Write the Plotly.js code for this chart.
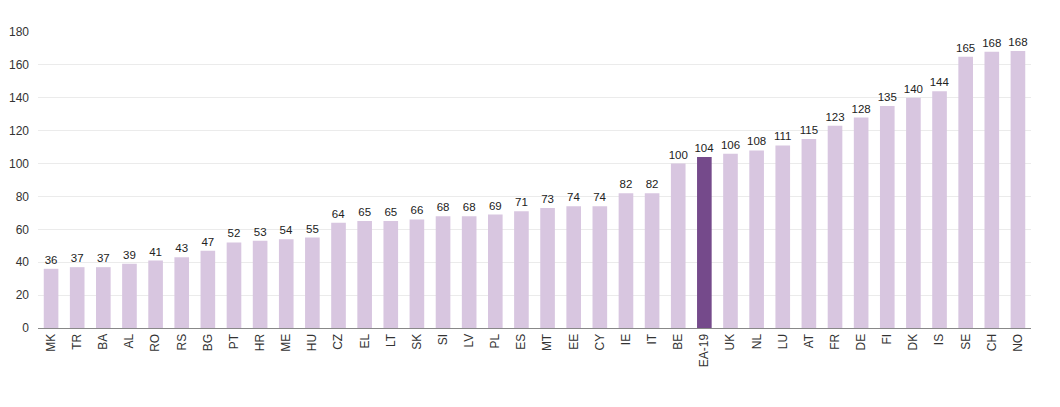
<!DOCTYPE html>
<html><head><meta charset="utf-8">
<script src="https://cdn.plot.ly/plotly-3.0.1.min.js"></script>
<style>body{margin:0;background:#fff}#c{width:1060px;height:407px}</style>
</head><body><div id="c"></div>
<script>
var categories = ["MK","TR","BA","AL","RO","RS","BG","PT","HR","ME","HU","CZ","EL","LT","SK","SI","LV","PL","ES","MT","EE","CY","IE","IT","BE","EA-19","UK","NL","LU","AT","FR","DE","FI","DK","IS","SE","CH","NO"];
var values = [36,37,37,39,41,43,47,52,53,54,55,64,65,65,66,68,68,69,71,73,74,74,82,82,100,104,106,108,111,115,123,128,135,140,144,165,168,168.4];
var highlight = "EA-19";
var colors = categories.map(function(c){return c===highlight ? "#754a8b" : "#d8c6e0";});
var data = [{
  type: "bar", x: categories, y: values,
  marker: {color: colors},
  text: values.map(function(v){return String(Math.round(v));}),
  textposition: "outside", cliponaxis: false, constraintext: "none",
  textfont: {family: "Liberation Sans, Arial, sans-serif", size: 11.5, color: "#222"},
  hoverinfo: "x+y"
}];
var layout = {
  width: 1060, height: 407,
  margin: {l: 38, r: 29, t: 32, b: 79},
  bargap: 0.44,
  showlegend: false,
  paper_bgcolor: "#fff", plot_bgcolor: "#fff",
  font: {family: "Liberation Sans, Arial, sans-serif", size: 12, color: "#333"},
  xaxis: {tickangle: -90, showgrid: false, showline: true, linecolor: "#888", linewidth: 1, ticks: "", tickfont: {size: 12, color: "#333"}},
  yaxis: {range: [0, 180], dtick: 20, showgrid: true, gridcolor: "#ebebeb", zeroline: false, showline: false, ticks: "", tickfont: {size: 12, color: "#333"}, ticklabelstandoff: 8}
};
Plotly.newPlot("c", data, layout, {displayModeBar: false, staticPlot: true});
</script></body></html>
